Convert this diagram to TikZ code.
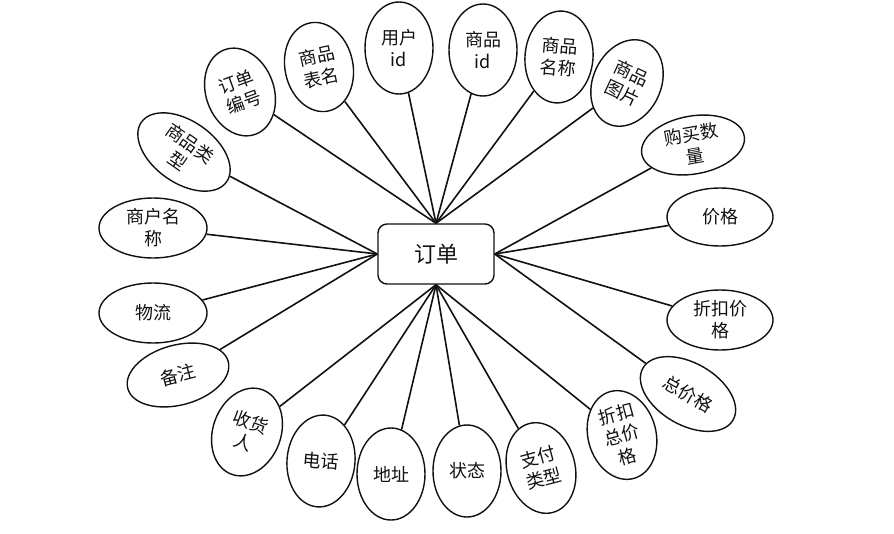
\documentclass[tikz,border=0pt]{standalone}
\usepackage{fontspec}
\setmainfont{Noto Sans CJK SC}
\usetikzlibrary{shapes.geometric}
\definecolor{ink}{HTML}{111111}
\newcommand{\Attr}{\fontsize{18}{22}\selectfont}
\newcommand{\Ent}{\fontsize{22}{26}\selectfont}

\begin{document}
\begin{tikzpicture}[x=1pt,y=-1pt, font=\Attr,
    attr/.style={ellipse, draw=ink, line width=1.4pt, inner sep=0pt, align=center, text=ink},
    link/.style={draw=ink, line width=1.6pt}]
  \useasboundingbox (0,0) rectangle (894,533);
  \node[draw=ink, line width=1.4pt, rounded corners=9pt, minimum width=116pt, minimum height=60pt, text=ink, font=\Ent] (order) at (436,254) {订单};
  % attributes: name/x/y/width/height/rotation/side of order/text
  \foreach \nm/\cx/\cy/\w/\h/\r/\side/\txt in {
      orderno/240/92/68/90/20/north/{订单\\编号},
      tablename/319/67/68/90/12/north/{商品\\表名},
      userid/399/48/68/92/0/north/{用户\\id},
      goodsid/483/50/68/92/0/north/{商品\\id},
      goodsname/559/57/68/92/-5/north/{商品\\名称},
      goodspic/627/83/68/90/-25/north/{商品\\图片},
      qty/693/145/104/58/10/east/{购买数\\量},
      price/720/217/106/58/0/east/{价格},
      discprice/720/320/106/60/0/east/{折扣价\\格},
      total/688/394/104/62/-30/east/{总价格},
      disctotal/622/435/68/90/15/south/{折扣\\总价\\格},
      paytype/541/468/68/92/15/south/{支付\\类型},
      state/467/471/68/92/0/south/{状态},
      addr/391/474/68/92/0/south/{地址},
      phone/321/461/68/92/-5/south/{电话},
      receiver/247/432/68/90/-20/south/{收货\\人},
      remark/178/375/104/60/15/west/{备注},
      logistics/153/313/108/60/0/west/{物流},
      shopname/153/228/108/60/0/west/{商户名\\称},
      goodstype/184/152/104/62/-35/west/{商品类\\型}}{
    \node[attr, minimum width=\w pt, minimum height=\h pt, rotate=\r] (\nm) at (\cx,\cy) {\txt};
    \draw[link] (\nm) -- (order.\side);}
\end{tikzpicture}
\end{document}
